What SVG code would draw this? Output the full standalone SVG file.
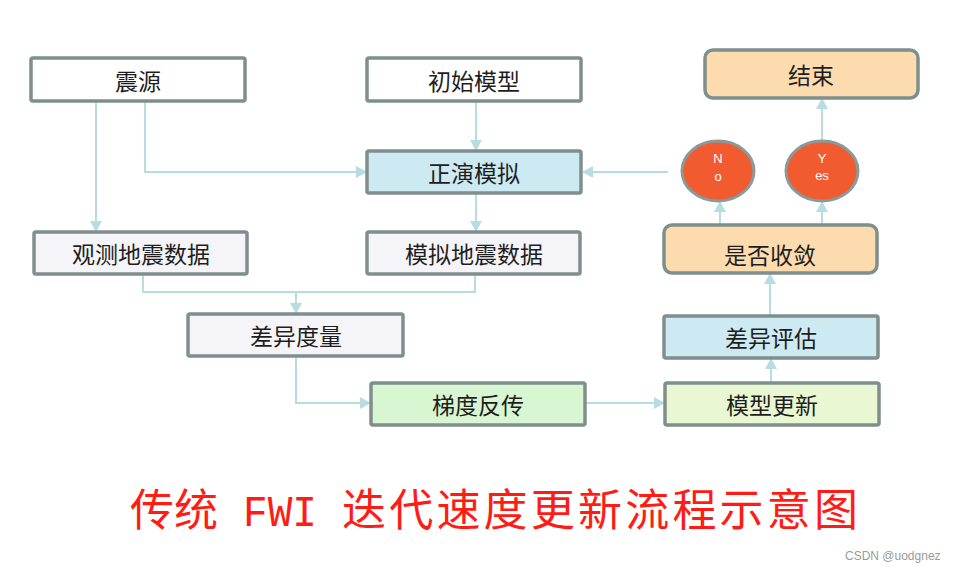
<svg xmlns="http://www.w3.org/2000/svg" width="956" height="573" viewBox="0 0 956 573">
<defs>
<style>
.box{stroke:#7f8f8d;stroke-width:3.5}
.w{fill:#ffffff}
.g{fill:#f5f5f9}
.b{fill:#cdeaf2}
.gr{fill:#d9f6d2}
.yg{fill:#e9f8d2}
.o{fill:#fcdcae}
.t{font-family:"Noto Sans CJK SC","Noto Sans",sans-serif;font-size:23px;fill:#1e1e1e;text-anchor:middle}
.c{fill:#f25a30;stroke:#8a9a98;stroke-width:3}
.ct{font-family:"Liberation Sans","Noto Sans",sans-serif;font-size:13px;fill:#ffffff;text-anchor:middle}
.ln{fill:none;stroke:#b7dde0;stroke-width:2}
</style>
<marker id="ar" markerWidth="12" markerHeight="12" refX="10" refY="6" orient="auto" markerUnits="userSpaceOnUse">
<path d="M0,0 L11,6 L0,12 Z" fill="#b7dde0"/>
</marker>
</defs>
<rect width="956" height="573" fill="#ffffff"/>
<g id="connectors">
<path class="ln" d="M96,101 V231" marker-end="url(#ar)"/>
<path class="ln" d="M145,101 V172 H366" marker-end="url(#ar)"/>
<path class="ln" d="M476,101 V150" marker-end="url(#ar)"/>
<path class="ln" d="M476,193 V231" marker-end="url(#ar)"/>
<path class="ln" d="M668,172 H583" marker-end="url(#ar)"/>
<path class="ln" d="M143,274 V292 H475 V274"/>
<path class="ln" d="M296,292 V313" marker-end="url(#ar)"/>
<path class="ln" d="M296,356 V403 H370" marker-end="url(#ar)"/>
<path class="ln" d="M585,403 H664" marker-end="url(#ar)"/>
<path class="ln" d="M771,383 V359" marker-end="url(#ar)"/>
<path class="ln" d="M770,316 V274" marker-end="url(#ar)"/>
<path class="ln" d="M720,225 V202" marker-end="url(#ar)"/>
<path class="ln" d="M822,225 V202" marker-end="url(#ar)"/>
<path class="ln" d="M822,141 V99" marker-end="url(#ar)"/>
</g>
<g id="n-source"><rect class="box w" x="31" y="58" width="214" height="43" rx="2"/><text class="t" x="138" y="90">震源</text></g>
<g id="n-init"><rect class="box w" x="367" y="58" width="214" height="43" rx="2"/><text class="t" x="474" y="90">初始模型</text></g>
<g id="n-forward"><rect class="box b" x="367" y="151" width="214" height="42" rx="2"/><text class="t" x="474" y="182">正演模拟</text></g>
<g id="n-obs"><rect class="box g" x="34" y="232" width="213" height="42" rx="2"/><text class="t" x="141" y="263">观测地震数据</text></g>
<g id="n-syn"><rect class="box g" x="367" y="232" width="213" height="42" rx="2"/><text class="t" x="474" y="263">模拟地震数据</text></g>
<g id="n-misfit"><rect class="box g" x="188" y="314" width="215" height="42" rx="2"/><text class="t" x="296" y="345">差异度量</text></g>
<g id="n-grad"><rect class="box gr" x="371" y="383" width="214" height="42" rx="2"/><text class="t" x="478" y="414">梯度反传</text></g>
<g id="n-update"><rect class="box yg" x="665" y="383" width="214" height="42" rx="2"/><text class="t" x="772" y="414">模型更新</text></g>
<g id="n-eval"><rect class="box b" x="664" y="316" width="214" height="42" rx="2"/><text class="t" x="771" y="347">差异评估</text></g>
<g id="n-conv"><rect class="box o" x="664" y="225" width="213" height="48" rx="8"/><text class="t" x="770" y="264">是否收敛</text></g>
<g id="n-end"><rect class="box o" x="705" y="50" width="213" height="48" rx="8"/><text class="t" x="811" y="84">结束</text></g>
<g id="n-no"><ellipse class="c" cx="718" cy="171" rx="36" ry="30"/><text class="ct" x="718" y="163">N</text><text class="ct" x="718" y="181">o</text></g>
<g id="n-yes"><ellipse class="c" cx="822" cy="171" rx="36" ry="30"/><text class="ct" x="822" y="163">Y</text><text class="ct" x="822" y="180">es</text></g>
<g id="title" font-family="'Noto Sans CJK SC','Noto Sans',sans-serif" font-size="44" fill="#ff1c14">
<text x="130" y="526" textLength="88" lengthAdjust="spacingAndGlyphs">传统</text>
<text x="243" y="526" font-family="'Liberation Mono',monospace" textLength="74" lengthAdjust="spacingAndGlyphs">FWI</text>
<text x="342" y="526" textLength="516" lengthAdjust="spacing">迭代速度更新流程示意图</text>
</g>
<text x="845" y="560" font-family="'Liberation Sans',sans-serif" font-size="12" fill="#9a9a9a">CSDN @uodgnez</text>
</svg>
